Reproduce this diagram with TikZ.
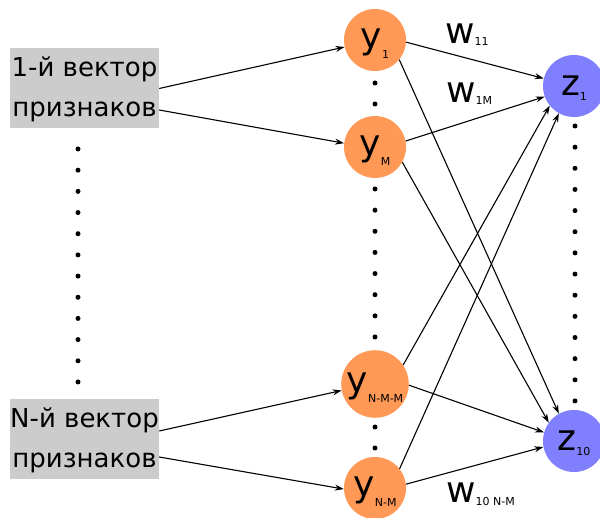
\documentclass[tikz,border=0pt]{standalone}
\usepackage{fontspec}
\setmainfont{DejaVu Sans}
\usetikzlibrary{arrows.meta}
\definecolor{neurOrange}{HTML}{FF9955}
\definecolor{neurBlue}{HTML}{8080FF}
\definecolor{boxGray}{HTML}{CCCCCC}
\newcommand{\ylab}[1]{{\fontsize{36}{36}\selectfont y}\kern0pt\raisebox{-10pt}{\fontsize{11}{11}\selectfont #1}}
\newcommand{\zlab}[1]{{\fontsize{36}{36}\selectfont z}\raisebox{-5pt}{\fontsize{11}{11}\selectfont #1}}
\newcommand{\wlab}[1]{{\fontsize{36}{36}\selectfont w}\raisebox{-2pt}{\fontsize{11}{11}\selectfont #1}}
\begin{document}
\begin{tikzpicture}[x=1pt,y=-1pt,
  neuron/.style={circle,minimum size=62pt,inner sep=0pt,text height=27pt,text depth=10pt},
  ynode/.style={neuron,fill=neurOrange},
  znode/.style={neuron,fill=neurBlue,text height=30pt},
  featbox/.style={rectangle,fill=boxGray,minimum width=149pt,minimum height=79pt,inner sep=0pt,font=\fontsize{26}{40}\selectfont},
  conn/.style={line width=1.1pt,-{Stealth[length=9pt,width=6pt]}},
  wlabel/.style={inner sep=0pt,anchor=base west}]
\clip (0,0) rectangle (600,518);
\fill[white] (0,0) rectangle (600,518);

% feature boxes
\node[featbox] (box1) at (84.5,88.5) {\raisebox{-1pt}{\begin{tabular}{@{}c@{}}1-й вектор\\признаков\end{tabular}}};
\node[featbox] (boxN) at (84.5,439.5) {\begin{tabular}{@{}c@{}}N-й вектор\\признаков\end{tabular}};

% neurons
\node[ynode] (y1)   at (375,40)  {\ylab{1}};
\node[ynode] (yM)   at (375,147) {\ylab{M}};
\node[ynode] (yNMM) at (375,384) {\ylab{N-M-M}};
\node[ynode] (yNM)  at (375,488) {\ylab{N-M}};
\node[znode] (z1)   at (574,86)  {\zlab{1}};
\node[znode] (z10)  at (574,441) {\zlab{10}};

% dots
\foreach \i in {0,...,11} \fill (78,{149+21.18*\i}) circle (2.5pt);
\foreach \yy in {83,104,427,448} \fill (375,\yy) circle (2.5pt);
\foreach \i in {0,...,7} \fill (375,{189+21.14*\i}) circle (2.5pt);
\foreach \i in {0,...,13} \fill (575,{126+21.15*\i}) circle (2.5pt);

% inputs
\draw[conn] (box1.east) -- (y1.193);
\draw[conn] ([yshift=-21.5pt]box1.east) -- (yM.173);
\draw[conn] ([yshift=8.5pt]boxN.east) -- (yNMM.191);
\draw[conn] ([yshift=-17.5pt]boxN.east) -- (yNM.182);

% weights
\draw[conn] (y1.-4)   -- (z1.166);
\draw[conn] (y1.-39)  -- (z10.119);
\draw[conn] (yM.11)   -- (z1.200);
\draw[conn] (yM.-29)  -- (z10.144);
\draw[conn] (yNMM.34) -- (z1.219);
\draw[conn] (yNMM.-2) -- (z10.164);
\draw[conn] (yNM.38)  -- (z1.241);
\draw[conn] (yNM.7)   -- (z10.191);

% weight labels
\node[wlabel] (w11)  at (445,44)  {\wlab{11}};
\node[wlabel] (w1M)  at (446,103) {\wlab{1M}};
\node[wlabel] (w10)  at (446,503) {\wlab{10 N-M}};
\end{tikzpicture}
\end{document}
